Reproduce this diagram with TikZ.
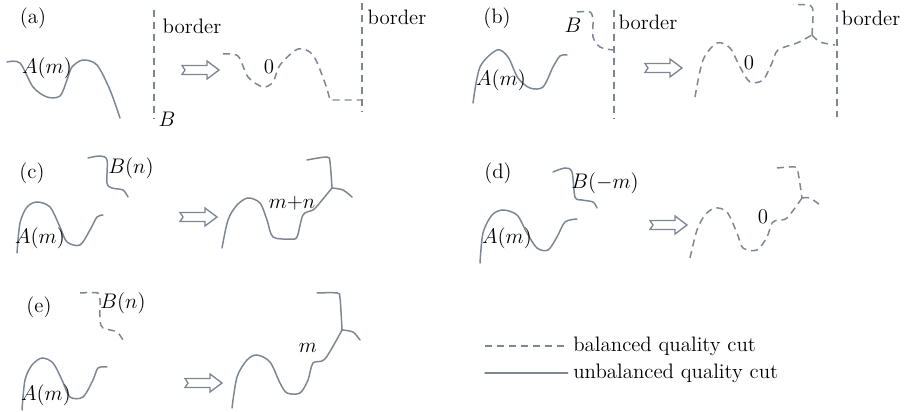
\documentclass[tikz,border=0pt]{standalone}
\usetikzlibrary{positioning}
\definecolor{cutgray}{HTML}{7D8794}
\tikzset{
  cut/.style={draw=cutgray,line width=0.85pt,line cap=round},
  balanced/.style={cut,line cap=butt,dash pattern=on 4pt off 2.8pt},
  lbl/.style={font=\fontsize{11.9}{13}\selectfont,inner sep=0pt},
  fat arrow/.pic={
    \draw[cutgray,line width=0.75pt,line join=miter]
      (0,-4.5) -- (25,-4.5) -- (25,-9) -- (37,0) -- (25,9) -- (25,4.5) -- (0,4.5) -- (3,0) -- cycle;
  }
}
\begin{document}
\begin{tikzpicture}[x=0.02cm,y=-0.02cm]
  \useasboundingbox (0,0) rectangle (904,412);
  % (a) cut A meets the border
  \node[lbl] (la) at (33,18) {(a)};
  \draw[cut] plot[smooth] coordinates {(7,62) (20,63) (33,87) (47,97) (60,96) (67,80) (72,67) (83,60) (97,65) (110,90) (120,118)};
  \node[lbl] (aA) at (47,68) {$A(m)$};
  \draw[balanced] (154,10) -- (154,118);
  \node[lbl] (aborder) at (192,26) {border};
  \node[lbl] (aB) at (167,119) {$B$};
  \pic at (182,70) {fat arrow};
  \draw[balanced] plot[smooth] coordinates {(223,54) (238,56) (248,77) (263,87) (273,82) (280,65) (298,49) (313,55) (325,83) (330,100)} -- (362,100);
  \node[lbl] (a0) at (269,67) {0};
  \draw[balanced] (362,3) -- (362,112);
  \node[lbl] (aborderr) at (397,17) {border};
  % (b) balanced B ends on the border
  \node[lbl] (lb) at (497,18) {(b)};
  \node[lbl] (bB) at (573,25) {$B$};
  \draw[balanced] plot[smooth] coordinates {(577,12) (590,12) (593,20) (593,37) (600,47) (613,50)};
  \draw[balanced] (614,10) -- (614,118);
  \node[lbl] (bborder) at (648,22) {border};
  \draw[cut] plot[smooth] coordinates {(473,103) (480,67) (497,50) (508,57) (518,78) (530,88) (543,87) (553,67) (560,56) (567,55)};
  \node[lbl] (bA) at (501,80) {$A(m)$};
  \pic at (645,68) {fat arrow};
  \draw[balanced] plot[smooth] coordinates {(695,97) (703,60) (717,43) (730,48) (740,67) (750,82) (763,80) (772,63) (778,50) (797,43) (812,35)};
  \draw[balanced] plot[smooth] coordinates {(812,35) (813,13) (810,5) (793,5)};
  \draw[balanced] plot[smooth] coordinates {(812,35) (820,42) (835,45)};
  \node[lbl] (b0) at (749,63) {0};
  \draw[balanced] (837,3) -- (837,117);
  \node[lbl] (bborderr) at (871,18) {border};
  % (c) two unbalanced cuts add up
  \node[lbl] (lc) at (32,173) {(c)};
  \draw[cut] plot[smooth] coordinates {(88,158) (100,156) (107,160) (107,183) (112,188) (123,190) (128,197)};
  \node[lbl] (cB) at (131,168) {$B(n)$};
  \draw[cut] plot[smooth] coordinates {(17,253) (20,223) (27,207) (37,202) (50,207) (60,227) (67,242) (80,245) (90,230) (97,217) (103,215)};
  \node[lbl] (cA) at (40,238) {$A(m)$};
  \pic at (180,217) {fat arrow};
  \draw[cut] plot[smooth] coordinates {(222,248) (228,220) (237,205) (248,198) (260,203) (267,220) (273,237) (290,239) (297,237) (303,215) (313,210) (318,205) (332,188)};
  \draw[cut] plot[smooth] coordinates {(307,160) (327,157) (330,162) (332,188)};
  \draw[cut] plot[smooth] coordinates {(332,188) (343,190) (352,197)};
  \node[lbl] (cmn) at (292,203) {$m{+}n$};
  % (d) opposite cuts cancel
  \node[lbl] (ld) at (498,173) {(d)};
  \draw[cut] plot[smooth] coordinates {(553,172) (565,168) (572,172) (575,197) (582,200) (593,202) (597,208)};
  \node[lbl] (dB) at (605,183) {$B(-m)$};
  \draw[cut] plot[smooth] coordinates {(480,263) (483,233) (492,215) (503,210) (517,215) (527,233) (537,248) (548,250) (557,237) (565,222) (577,219)};
  \node[lbl] (dA) at (507,238) {$A(m)$};
  \pic at (650,225) {fat arrow};
  \draw[balanced] plot[smooth] coordinates {(690,258) (697,230) (705,215) (715,208) (727,212) (737,233) (743,248) (757,250) (767,237) (772,223) (778,220) (787,218) (802,198)};
  \draw[balanced] plot[smooth] coordinates {(777,168) (795,167) (798,172) (802,198)};
  \draw[balanced] plot[smooth] coordinates {(802,198) (810,198) (820,205)};
  \node[lbl] (d0) at (763,217) {0};
  % (e) balanced plus unbalanced
  \node[lbl] (le) at (39,307) {(e)};
  \draw[balanced] plot[smooth] coordinates {(80,293) (98,293) (100,300) (100,320) (103,328) (117,332) (124,342)};
  \node[lbl] (eB) at (123,303) {$B(n)$};
  \draw[cut] plot[smooth] coordinates {(22,410) (25,380) (32,365) (42,358) (53,363) (62,380) (70,397) (83,397) (93,380) (98,368) (107,367)};
  \node[lbl] (eA) at (46,395) {$A(m)$};
  \pic at (185,383) {fat arrow};
  \draw[cut] plot[smooth] coordinates {(232,408) (237,377) (247,360) (257,355) (270,362) (280,383) (287,393) (300,393) (308,380) (313,363) (325,359) (342,330)};
  \draw[cut] plot[smooth] coordinates {(317,293) (337,293) (340,298) (342,330)};
  \draw[cut] plot[smooth] coordinates {(342,330) (353,332) (360,340)};
  \node[lbl] (em) at (308,348) {$m$};
  % legend
  \node[lbl,anchor=west] (lgbal) at (573,346) {balanced quality cut};
  \node[lbl,anchor=west] (lgunb) at (573,373) {unbalanced quality cut};
  \coordinate (lgbals) at (485,346);
  \coordinate (lgunbs) at (485,373);
  \draw[balanced] (lgbals) -- ([xshift=-3pt]lgbal.west);
  \draw[cut] (lgunbs) -- ([xshift=-3pt]lgunb.west);
\end{tikzpicture}
\end{document}
